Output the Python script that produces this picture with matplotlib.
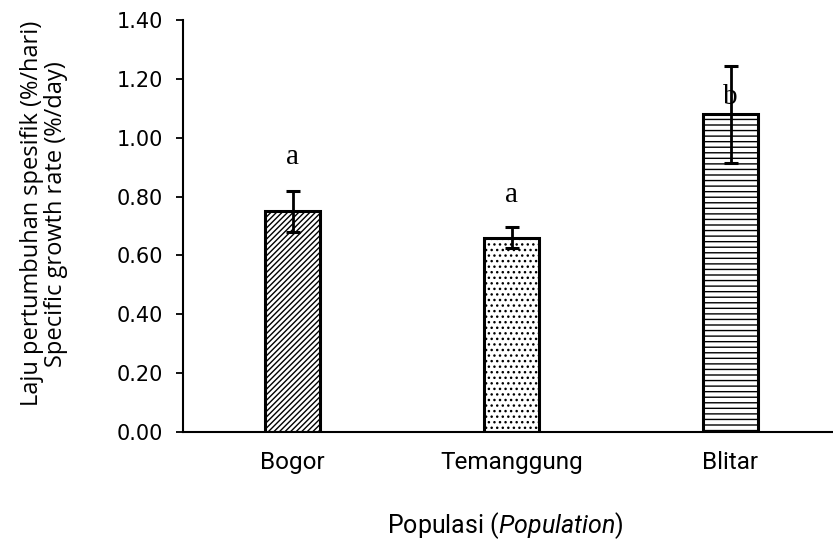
import matplotlib
matplotlib.use("Agg")
import matplotlib.pyplot as plt

categories = ["Bogor", "Temanggung", "Blitar"]
values = [0.75, 0.66, 1.08]
errors = [0.07, 0.035, 0.165]
letters = ["a", "a", "b"]
letter_y = [0.91, 0.78, 1.115]
hatches = ["//////", "...", "---"]
yticks = [0.0, 0.2, 0.4, 0.6, 0.8, 1.0, 1.2, 1.4]

xfont = "Roboto"
plt.rcParams["hatch.linewidth"] = 1.0
plt.rcParams["hatch.color"] = "black"
plt.rcParams["mathtext.fontset"] = "custom"
plt.rcParams["mathtext.it"] = xfont + ":italic"
plt.rcParams["mathtext.rm"] = xfont

fig = plt.figure(figsize=(8.33, 5.43), dpi=100)
ax = fig.add_axes([183/833, 1-432/543, 657/833, 412/543])

x = list(range(len(categories)))
bars = ax.bar(x, values, width=0.25, color="white", edgecolor="black",
              linewidth=2.2, zorder=2)
for b, h in zip(bars, hatches):
    b.set_hatch(h)
ax.errorbar(x, values, yerr=errors, fmt="none", ecolor="black",
            elinewidth=2.0, capsize=5, capthick=2.2, zorder=3)
for xi, l, ly in zip(x, letters, letter_y):
    ax.text(xi, ly, l, ha="center", va="baseline", fontsize=21,
            family="Liberation Serif")

ax.set_xlim(-0.5, 2.5)
ax.set_ylim(0, 1.4)
ax.set_yticks(yticks)
ax.set_yticklabels([f"{v:.2f}" for v in yticks], family="DejaVu Sans", fontsize=15)
ax.set_xticks(x)
ax.set_xticklabels(categories, family=xfont, fontsize=17.5)
ax.tick_params(axis="x", length=0, pad=14)
ax.tick_params(axis="y", direction="out", length=5, width=1.3, pad=9.5)
for s in ["top", "right"]:
    ax.spines[s].set_visible(False)
for s in ["left", "bottom"]:
    ax.spines[s].set_linewidth(1.5)

ax.set_ylabel("Laju pertumbuhan spesifik (%/hari)\nSpecific growth rate (%/day)",
              family="Open Sans", fontsize=17, linespacing=1.0)
ax.yaxis.set_label_coords(-0.175, 0.53)
ax.set_xlabel(r"Populasi ($\mathit{Population}$)", family=xfont, fontsize=18)
ax.xaxis.set_label_coords((505-183)/657, -0.19)

fig.savefig("out.png", dpi=100)
